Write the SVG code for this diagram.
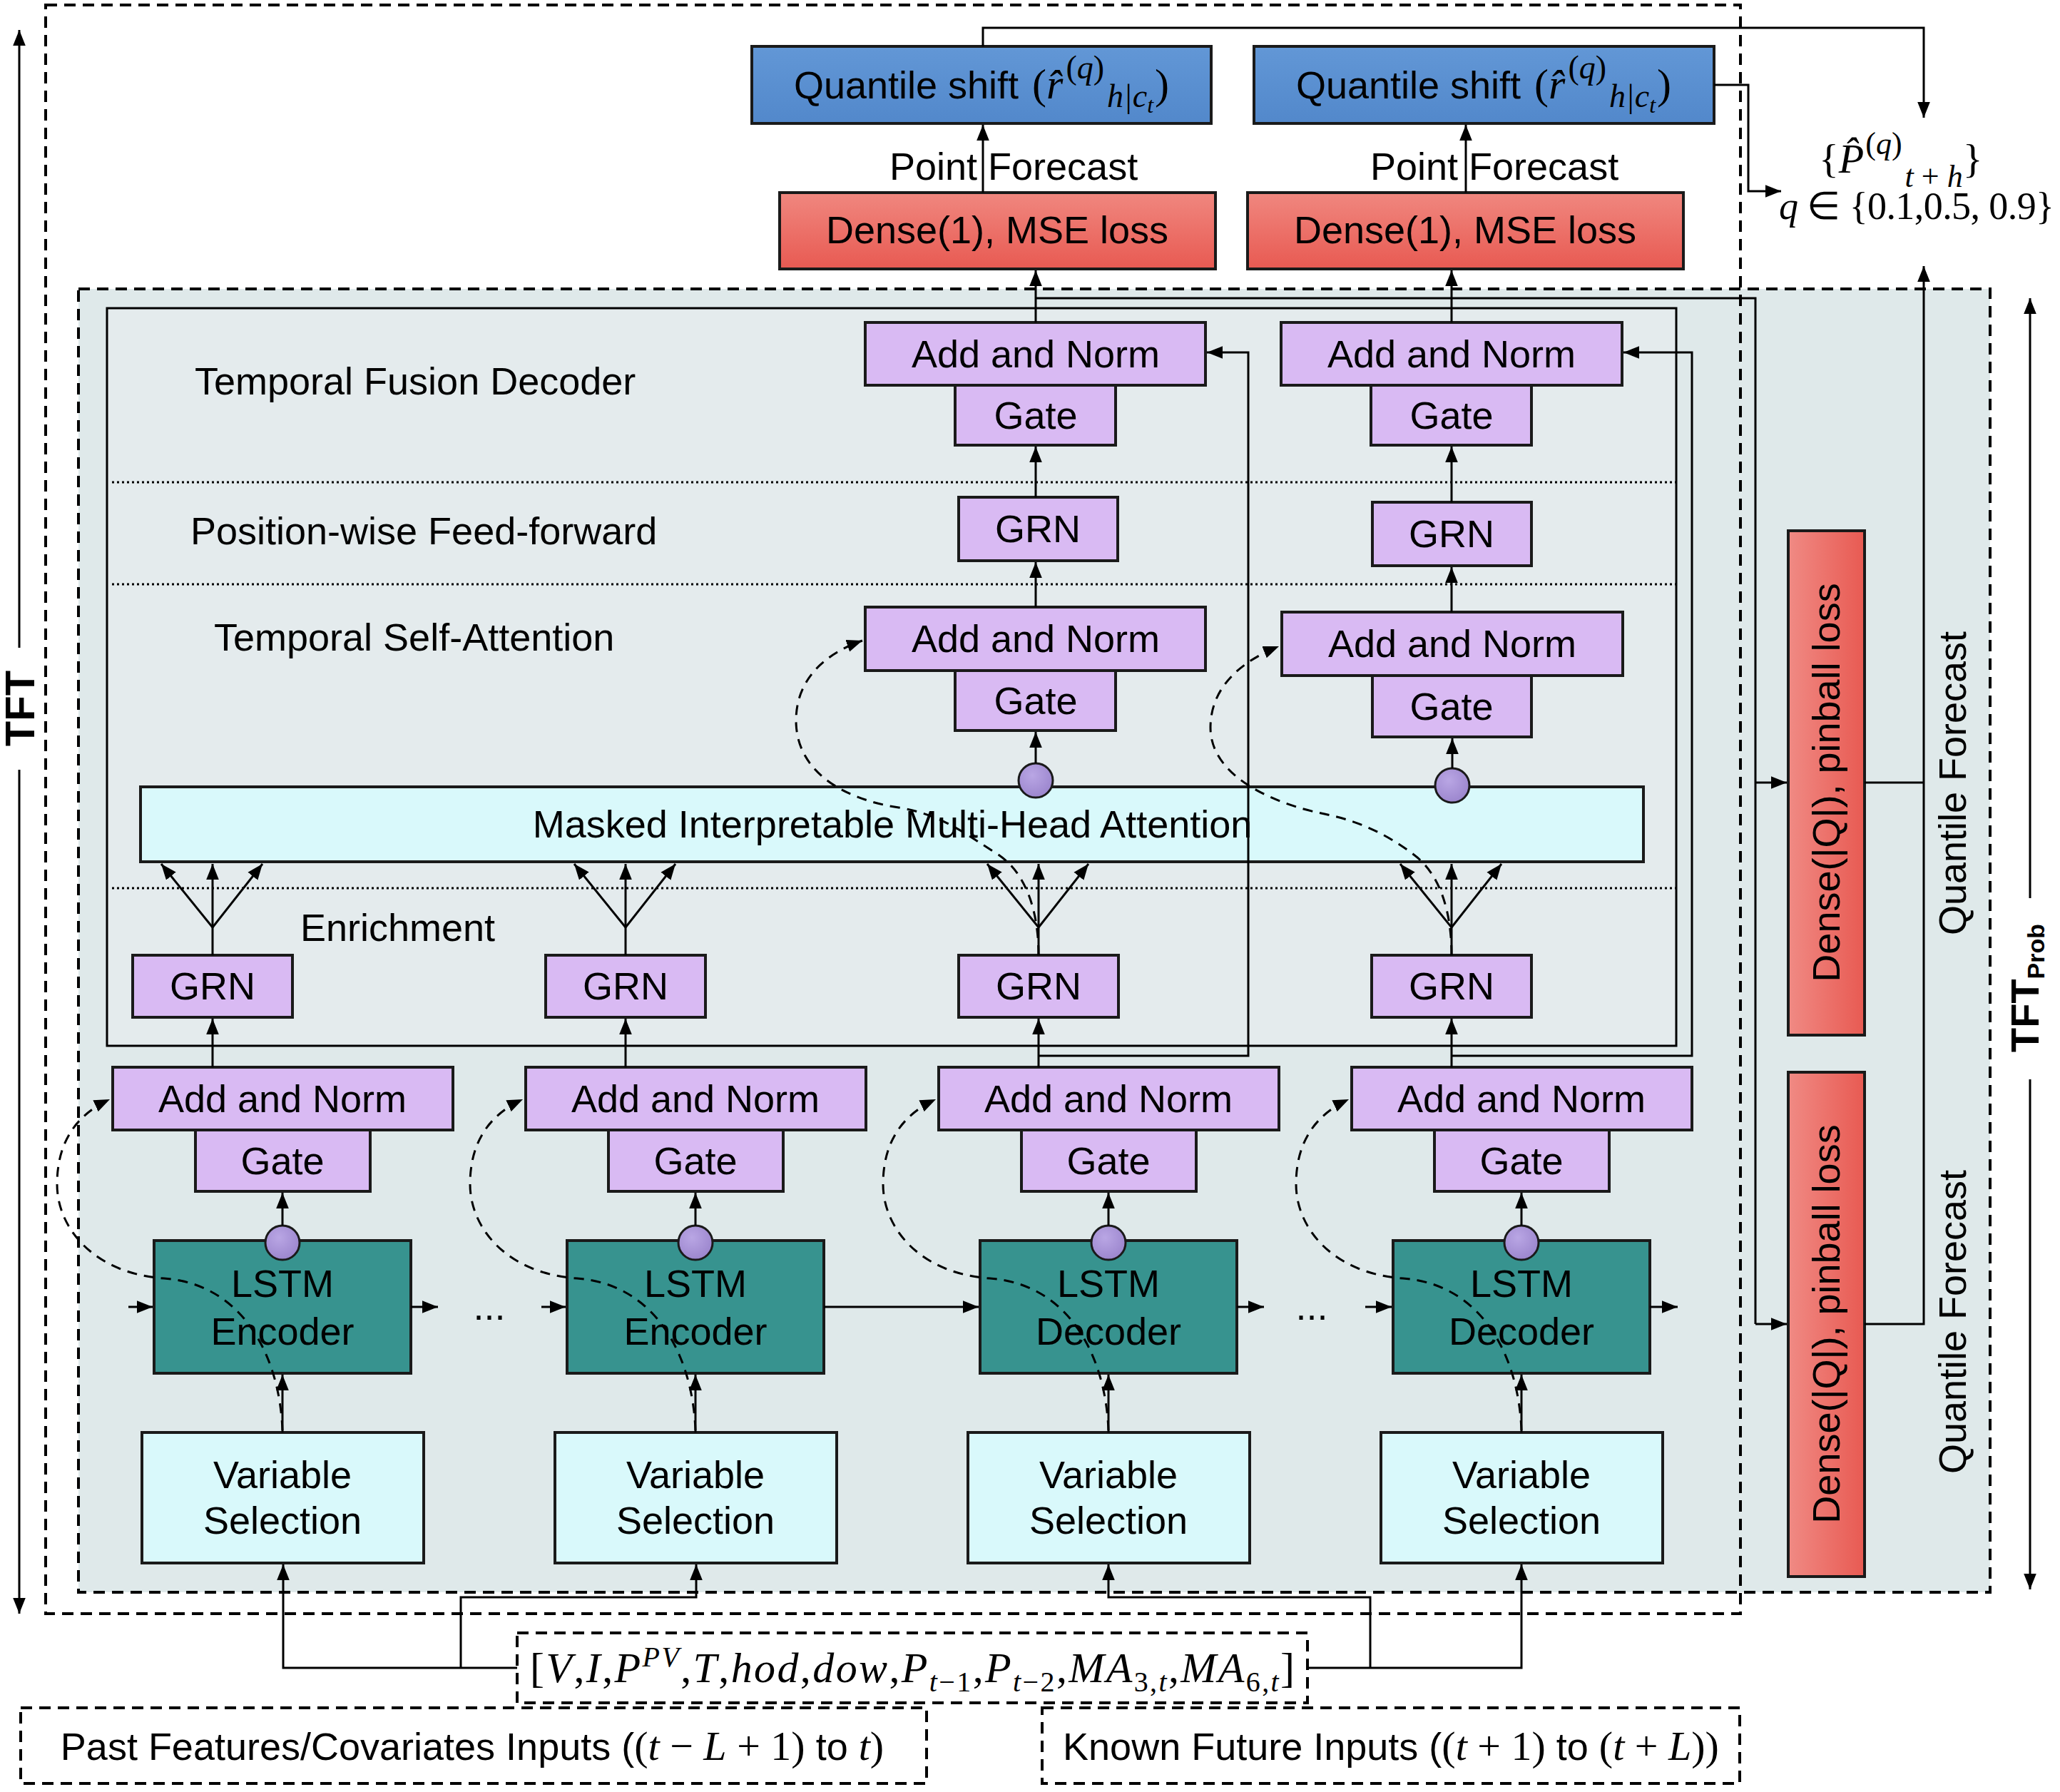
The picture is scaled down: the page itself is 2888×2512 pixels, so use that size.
<svg xmlns="http://www.w3.org/2000/svg" width="2888" height="2512" viewBox="0 0 2888 2512">
<defs>
<style>
.box{stroke:#1a1a1a;stroke-width:4}
.pur{fill:#d9baf3}
.lstm{fill:#37938f}
.cyan{fill:#d9f9fb}
.blue{fill:url(#gBlue)}
.red{fill:url(#gRed)}
.redh{fill:url(#gRedH)}
.circ{fill:url(#gCirc);stroke:#1a1a1a;stroke-width:3}
.t{font-family:"Liberation Sans",Arial,sans-serif;font-size:54px;text-anchor:middle;fill:#000}
.ts{font-family:"Liberation Sans",Arial,sans-serif;font-size:54px;fill:#000}
.m{font-family:"Liberation Serif","Times New Roman",serif;font-style:normal}
.mi{font-family:"Liberation Serif","Times New Roman",serif;font-style:italic}
.ln{stroke:#000;stroke-width:3;fill:none}
.arr{marker-end:url(#ah)}
.dsk{stroke:#000;stroke-width:3;fill:none;stroke-dasharray:14 10;marker-end:url(#ah)}
.dot{stroke:#000;stroke-width:3;stroke-dasharray:3 4;fill:none}
.frame{fill:none;stroke:#000;stroke-width:4;stroke-dasharray:16 10}
.bold{font-family:"Liberation Sans",Arial,sans-serif;font-weight:bold;fill:#000}
</style>
<marker id="ah" viewBox="0 0 20 16" refX="20" refY="8" markerWidth="22" markerHeight="18" markerUnits="userSpaceOnUse" orient="auto">
<path d="M0,0 L20,8 L0,16 z" fill="#000"/>
</marker>
<linearGradient id="gBlue" x1="0" y1="0" x2="0" y2="1"><stop offset="0" stop-color="#6297d6"/><stop offset="1" stop-color="#5288cb"/></linearGradient>
<linearGradient id="gRed" x1="0" y1="0" x2="0" y2="1"><stop offset="0" stop-color="#f0877f"/><stop offset="1" stop-color="#e85a52"/></linearGradient>
<linearGradient id="gRedH" x1="0" y1="0" x2="1" y2="0"><stop offset="0" stop-color="#f08a84"/><stop offset="1" stop-color="#e85a52"/></linearGradient>
<radialGradient id="gCirc" cx="0.4" cy="0.35" r="0.7"><stop offset="0" stop-color="#b9a6e4"/><stop offset="1" stop-color="#9a84cc"/></radialGradient>
</defs>
<rect width="2888" height="2512" fill="#fff"/>

<!-- frames -->
<g id="frames">
<rect x="110" y="405" width="2680" height="1827" fill="#dfe9ea" stroke="none"/>
<rect x="64" y="7" width="2376" height="2255" class="frame"/>
<rect x="110" y="405" width="2680" height="1827" class="frame"/>
<rect x="150" y="432" width="2200" height="1034" fill="#e4ebed" stroke="#000" stroke-width="3"/>
<line x1="157" y1="676" x2="2350" y2="676" class="dot"/>
<line x1="157" y1="819" x2="2350" y2="819" class="dot"/>
<line x1="157" y1="1245" x2="2350" y2="1245" class="dot"/>
<text x="273" y="553" class="ts">Temporal Fusion Decoder</text>
<text x="267" y="763" class="ts">Position-wise Feed-forward</text>
<text x="300" y="912" class="ts">Temporal Self-Attention</text>
<text x="421" y="1319" class="ts">Enrichment</text>
</g>

<!-- side labels -->
<g id="tft-label">
<line x1="27" y1="908" x2="27" y2="42" class="ln arr"/>
<line x1="27" y1="1079" x2="27" y2="2262" class="ln arr"/>
<text transform="translate(27,993) rotate(-90)" class="bold" font-size="58" text-anchor="middle" dominant-baseline="central">TFT</text>
</g>
<g id="tftprob-label">
<line x1="2846" y1="1259" x2="2846" y2="418" class="ln arr"/>
<line x1="2846" y1="1513" x2="2846" y2="2228" class="ln arr"/>
<text transform="translate(2838,1385) rotate(-90)" class="bold" font-size="56" text-anchor="middle" dominant-baseline="central">TFT<tspan font-size="34" dy="16">Prob</tspan></text>
</g>

<!-- top outputs -->
<g id="qs1"><rect x="1054" y="65" width="644" height="108" class="box blue"/>
<text x="1376" y="138" class="t">Quantile shift <tspan class="m" font-size="60" dx="4">(</tspan><tspan class="mi" font-size="60">r̂</tspan><tspan class="m" font-size="46" dy="-28" dx="4">(<tspan class="mi">q</tspan>)</tspan><tspan class="mi" font-size="46" dy="40" dx="4">h|c</tspan><tspan class="mi" font-size="32" dy="8">t</tspan><tspan class="m" font-size="60" dy="-20" dx="2">)</tspan></text></g>
<g id="qs2"><rect x="1758" y="65" width="645" height="108" class="box blue"/>
<text x="2080" y="138" class="t">Quantile shift <tspan class="m" font-size="60" dx="4">(</tspan><tspan class="mi" font-size="60">r̂</tspan><tspan class="m" font-size="46" dy="-28" dx="4">(<tspan class="mi">q</tspan>)</tspan><tspan class="mi" font-size="46" dy="40" dx="4">h|c</tspan><tspan class="mi" font-size="32" dy="8">t</tspan><tspan class="m" font-size="60" dy="-20" dx="2">)</tspan></text></g>
<g id="dense1"><rect x="1093" y="270" width="611" height="107" class="box red"/><text x="1398" y="341" class="t" font-size="52">Dense(1), MSE loss</text></g>
<g id="dense2"><rect x="1749" y="270" width="611" height="107" class="box red"/><text x="2054" y="341" class="t" font-size="52">Dense(1), MSE loss</text></g>
<g id="pf1"><text x="1247" y="252" class="ts">Point Forecast</text></g>
<g id="pf2"><text x="1921" y="252" class="ts">Point Forecast</text></g>
<g id="pq">
<text x="2550" y="242" class="m" font-size="58">{<tspan class="mi">P̂</tspan><tspan font-size="44" dy="-26" dx="2">(<tspan class="mi">q</tspan>)</tspan><tspan class="mi" font-size="44" dy="46" dx="4">t</tspan><tspan font-size="44"> + </tspan><tspan class="mi" font-size="44">h</tspan><tspan dy="-20">}</tspan></text>
<text x="2494" y="307" class="m" font-size="54" textLength="386" lengthAdjust="spacing"><tspan class="mi">q</tspan> ∈ {0.1,0.5, 0.9}</text>
</g>

<!-- quantile heads -->
<g id="dq1"><rect x="2507" y="744" width="107" height="707" class="box redh"/><text transform="translate(2560,1097) rotate(-90)" class="t" font-size="52" dominant-baseline="central">Dense(|Q|), pinball loss</text></g>
<g id="dq2"><rect x="2507" y="1503" width="107" height="707" class="box redh"/><text transform="translate(2560,1856) rotate(-90)" class="t" font-size="52" dominant-baseline="central">Dense(|Q|), pinball loss</text></g>
<g id="qf1"><text transform="translate(2737,1098) rotate(-90)" class="t" dominant-baseline="central">Quantile Forecast</text></g>
<g id="qf2"><text transform="translate(2737,1853) rotate(-90)" class="t" dominant-baseline="central">Quantile Forecast</text></g>

<!-- upper decoder col3 -->
<g id="an-top-3"><rect x="1213" y="452" width="477" height="88" class="box pur"/><text x="1452" y="515" class="t">Add and Norm</text></g>
<g id="gate-top-3"><rect x="1339" y="540" width="225" height="84" class="box pur"/><text x="1452" y="601" class="t">Gate</text></g>
<g id="grn-ff-3"><rect x="1344" y="697" width="223" height="89" class="box pur"/><text x="1455" y="760" class="t">GRN</text></g>
<g id="an-att-3"><rect x="1213" y="851" width="477" height="89" class="box pur"/><text x="1452" y="914" class="t">Add and Norm</text></g>
<g id="gate-att-3"><rect x="1339" y="940" width="225" height="84" class="box pur"/><text x="1452" y="1001" class="t">Gate</text></g>
<!-- upper decoder col4 -->
<g id="an-top-4"><rect x="1796" y="452" width="478" height="88" class="box pur"/><text x="2035" y="515" class="t">Add and Norm</text></g>
<g id="gate-top-4"><rect x="1922" y="540" width="225" height="84" class="box pur"/><text x="2035" y="601" class="t">Gate</text></g>
<g id="grn-ff-4"><rect x="1924" y="704" width="223" height="89" class="box pur"/><text x="2035" y="767" class="t">GRN</text></g>
<g id="an-att-4"><rect x="1797" y="858" width="478" height="89" class="box pur"/><text x="2036" y="921" class="t">Add and Norm</text></g>
<g id="gate-att-4"><rect x="1924" y="947" width="223" height="86" class="box pur"/><text x="2035" y="1009" class="t">Gate</text></g>

<!-- attention -->
<g id="mha"><rect x="197" y="1103" width="2107" height="105" class="box cyan"/><text x="1251" y="1174" class="t">Masked Interpretable Multi-Head Attention</text></g>
<g id="circ-att-3"><circle cx="1452" cy="1094" r="24" class="circ"/></g>
<g id="circ-att-4"><circle cx="2036" cy="1101" r="24" class="circ"/></g>

<!-- enrichment GRNs -->
<g id="grn-e-1"><rect x="186" y="1339" width="224" height="87" class="box pur"/><text x="298" y="1401" class="t">GRN</text></g>
<g id="grn-e-2"><rect x="765" y="1339" width="224" height="87" class="box pur"/><text x="877" y="1401" class="t">GRN</text></g>
<g id="grn-e-3"><rect x="1344" y="1339" width="224" height="87" class="box pur"/><text x="1456" y="1401" class="t">GRN</text></g>
<g id="grn-e-4"><rect x="1923" y="1339" width="224" height="87" class="box pur"/><text x="2035" y="1401" class="t">GRN</text></g>

<!-- lower columns -->
<g id="an-l-1"><rect x="158" y="1496" width="477" height="88" class="box pur"/><text x="396" y="1559" class="t">Add and Norm</text></g>
<g id="gate-l-1"><rect x="274" y="1584" width="245" height="86" class="box pur"/><text x="396" y="1646" class="t">Gate</text></g>
<g id="lstm-1"><rect x="216" y="1739" width="360" height="186" class="box lstm"/><text x="396" y="1818" class="t">LSTM</text><text x="396" y="1885" class="t">Encoder</text></g>
<g id="vs-1"><rect x="199" y="2008" width="395" height="183" class="box cyan"/><text x="396" y="2086" class="t">Variable</text><text x="396" y="2150" class="t">Selection</text></g>

<g id="an-l-2"><rect x="737" y="1496" width="477" height="88" class="box pur"/><text x="975" y="1559" class="t">Add and Norm</text></g>
<g id="gate-l-2"><rect x="853" y="1584" width="245" height="86" class="box pur"/><text x="975" y="1646" class="t">Gate</text></g>
<g id="lstm-2"><rect x="795" y="1739" width="360" height="186" class="box lstm"/><text x="975" y="1818" class="t">LSTM</text><text x="975" y="1885" class="t">Encoder</text></g>
<g id="vs-2"><rect x="778" y="2008" width="395" height="183" class="box cyan"/><text x="975" y="2086" class="t">Variable</text><text x="975" y="2150" class="t">Selection</text></g>

<g id="an-l-3"><rect x="1316" y="1496" width="477" height="88" class="box pur"/><text x="1554" y="1559" class="t">Add and Norm</text></g>
<g id="gate-l-3"><rect x="1432" y="1584" width="245" height="86" class="box pur"/><text x="1554" y="1646" class="t">Gate</text></g>
<g id="lstm-3"><rect x="1374" y="1739" width="360" height="186" class="box lstm"/><text x="1554" y="1818" class="t">LSTM</text><text x="1554" y="1885" class="t">Decoder</text></g>
<g id="vs-3"><rect x="1357" y="2008" width="395" height="183" class="box cyan"/><text x="1554" y="2086" class="t">Variable</text><text x="1554" y="2150" class="t">Selection</text></g>

<g id="an-l-4"><rect x="1895" y="1496" width="477" height="88" class="box pur"/><text x="2133" y="1559" class="t">Add and Norm</text></g>
<g id="gate-l-4"><rect x="2011" y="1584" width="245" height="86" class="box pur"/><text x="2133" y="1646" class="t">Gate</text></g>
<g id="lstm-4"><rect x="1953" y="1739" width="360" height="186" class="box lstm"/><text x="2133" y="1818" class="t">LSTM</text><text x="2133" y="1885" class="t">Decoder</text></g>
<g id="vs-4"><rect x="1936" y="2008" width="395" height="183" class="box cyan"/><text x="2133" y="2086" class="t">Variable</text><text x="2133" y="2150" class="t">Selection</text></g>

<g id="circ-l"><circle cx="396" cy="1742" r="24" class="circ"/><circle cx="975" cy="1742" r="24" class="circ"/><circle cx="1554" cy="1742" r="24" class="circ"/><circle cx="2133" cy="1742" r="24" class="circ"/></g>

<g id="dots"><text x="686" y="1850" class="t">...</text><text x="1839" y="1850" class="t">...</text></g>

<!-- inputs -->
<g id="features"><rect x="725" y="2289" width="1108" height="98" class="frame"/>
<text x="1279" y="2358" class="mi" font-size="60" text-anchor="middle" textLength="1072" lengthAdjust="spacing"><tspan class="m">[</tspan>V<tspan class="m">,</tspan>I<tspan class="m">,</tspan>P<tspan font-size="40" dy="-22">PV</tspan><tspan class="m" dy="22">,</tspan>T<tspan class="m">,</tspan>hod<tspan class="m">,</tspan>dow<tspan class="m">,</tspan>P<tspan font-size="40" dy="13">t</tspan><tspan class="m" font-size="40">−1</tspan><tspan class="m" dy="-13">,</tspan>P<tspan font-size="40" dy="13">t</tspan><tspan class="m" font-size="40">−2</tspan><tspan class="m" dy="-13">,</tspan>MA<tspan class="m" font-size="40" dy="13">3,</tspan><tspan font-size="40">t</tspan><tspan class="m" dy="-13">,</tspan>MA<tspan class="m" font-size="40" dy="13">6,</tspan><tspan font-size="40">t</tspan><tspan class="m" dy="-13">]</tspan></text></g>
<g id="past"><rect x="29" y="2394" width="1270" height="106" class="frame"/>
<text x="662" y="2467" class="t" font-size="56">Past Features/Covariates Inputs (<tspan class="m" font-size="58">(</tspan><tspan class="mi" font-size="58">t</tspan><tspan class="m" font-size="58"> − </tspan><tspan class="mi" font-size="58">L</tspan><tspan class="m" font-size="58"> + 1)</tspan> to <tspan class="mi" font-size="58">t</tspan><tspan class="m" font-size="58">)</tspan></text></g>
<g id="known"><rect x="1461" y="2394" width="978" height="106" class="frame"/>
<text x="1950" y="2467" class="t" font-size="56">Known Future Inputs (<tspan class="m" font-size="58">(</tspan><tspan class="mi" font-size="58">t</tspan><tspan class="m" font-size="58"> + 1)</tspan> to <tspan class="m" font-size="58">(</tspan><tspan class="mi" font-size="58">t</tspan><tspan class="m" font-size="58"> + </tspan><tspan class="mi" font-size="58">L</tspan><tspan class="m" font-size="58">))</tspan></text></g>

<!-- connectors -->
<g id="connectors">
<!-- top -->
<polyline points="1378,65 1378,39 2697,39 2697,165" class="ln arr"/>
<polyline points="2403,119 2451,119 2451,268 2497,268" class="ln arr"/>
<line x1="1378" y1="270" x2="1378" y2="175" class="ln arr"/>
<line x1="2055" y1="270" x2="2055" y2="175" class="ln arr"/>
<line x1="1452" y1="452" x2="1452" y2="379" class="ln arr"/>
<line x1="2035" y1="452" x2="2035" y2="379" class="ln arr"/>
<polyline points="1452,418 2461,418 2461,1856" class="ln"/>
<line x1="2461" y1="1097" x2="2505" y2="1097" class="ln arr"/>
<line x1="2461" y1="1856" x2="2505" y2="1856" class="ln arr"/>
<line x1="2614" y1="1097" x2="2697" y2="1097" class="ln"/>
<polyline points="2614,1856 2697,1856 2697,373" class="ln arr"/>
<!-- upper decoder -->
<line x1="1452" y1="697" x2="1452" y2="626" class="ln arr"/>
<line x1="1452" y1="851" x2="1452" y2="788" class="ln arr"/>
<line x1="1452" y1="1070" x2="1452" y2="1026" class="ln arr"/>
<line x1="2035" y1="704" x2="2035" y2="626" class="ln arr"/>
<line x1="2035" y1="858" x2="2035" y2="795" class="ln arr"/>
<line x1="2036" y1="1077" x2="2036" y2="1035" class="ln arr"/>
<polyline points="1456,1480 1750,1480 1750,494 1692,494" class="ln arr"/>
<polyline points="2035,1480 2372,1480 2372,494 2276,494" class="ln arr"/>
<!-- fans -->
<path d="M298,1339 V1300 M877,1339 V1300 M1456,1339 V1300 M2035,1339 V1300" class="ln"/>
<g class="ln arr">
<line x1="298" y1="1300" x2="226" y2="1211"/><line x1="298" y1="1300" x2="298" y2="1211"/><line x1="298" y1="1300" x2="368" y2="1211"/>
<line x1="877" y1="1300" x2="805" y2="1211"/><line x1="877" y1="1300" x2="877" y2="1211"/><line x1="877" y1="1300" x2="947" y2="1211"/>
<line x1="1456" y1="1300" x2="1384" y2="1211"/><line x1="1456" y1="1300" x2="1456" y2="1211"/><line x1="1456" y1="1300" x2="1526" y2="1211"/>
<line x1="2035" y1="1300" x2="1963" y2="1211"/><line x1="2035" y1="1300" x2="2035" y2="1211"/><line x1="2035" y1="1300" x2="2105" y2="1211"/>
</g>
<!-- lower columns -->
<g class="ln arr">
<line x1="298" y1="1496" x2="298" y2="1428"/><line x1="877" y1="1496" x2="877" y2="1428"/><line x1="1456" y1="1496" x2="1456" y2="1428"/><line x1="2035" y1="1496" x2="2035" y2="1428"/>
<line x1="396" y1="1718" x2="396" y2="1672"/><line x1="975" y1="1718" x2="975" y2="1672"/><line x1="1554" y1="1718" x2="1554" y2="1672"/><line x1="2133" y1="1718" x2="2133" y2="1672"/>
<line x1="396" y1="2008" x2="396" y2="1927"/><line x1="975" y1="2008" x2="975" y2="1927"/><line x1="1554" y1="2008" x2="1554" y2="1927"/><line x1="2133" y1="2008" x2="2133" y2="1927"/>
<line x1="180" y1="1832" x2="214" y2="1832"/><line x1="576" y1="1832" x2="614" y2="1832"/>
<line x1="759" y1="1832" x2="793" y2="1832"/><line x1="1155" y1="1832" x2="1372" y2="1832"/>
<line x1="1734" y1="1832" x2="1772" y2="1832"/><line x1="1914" y1="1832" x2="1951" y2="1832"/>
<line x1="2313" y1="1832" x2="2352" y2="1832"/>
</g>
<!-- skip connections -->
<path d="M396,2005 C392,1900 340,1800 230,1792 C130,1785 80,1720 80,1660 C80,1600 108,1562 154,1541" class="dsk"/>
<path d="M975,2005 C971,1900 919,1800 809,1792 C709,1785 659,1720 659,1660 C659,1600 687,1562 733,1541" class="dsk"/>
<path d="M1554,2005 C1550,1900 1498,1800 1388,1792 C1288,1785 1238,1720 1238,1660 C1238,1600 1266,1562 1312,1541" class="dsk"/>
<path d="M2133,2005 C2129,1900 2077,1800 1967,1792 C1867,1785 1817,1720 1817,1660 C1817,1600 1845,1562 1891,1541" class="dsk"/>
<path d="M1456,1339 C1456,1280 1440,1222 1395,1195 C1352,1168 1320,1142 1260,1132 C1180,1120 1116,1080 1116,1010 C1116,950 1160,915 1209,898" class="dsk"/>
<path d="M2035,1339 C2035,1280 2020,1226 1982,1198 C1940,1166 1900,1150 1857,1141 C1790,1128 1697,1090 1697,1020 C1697,960 1745,925 1793,906" class="dsk"/>
<!-- inputs -->
<polyline points="725,2338 397,2338 397,2193" class="ln arr"/>
<polyline points="646,2338 646,2239 976,2239 976,2193" class="ln arr"/>
<polyline points="1833,2338 2133,2338 2133,2193" class="ln arr"/>
<polyline points="1921,2338 1921,2239 1554,2239 1554,2193" class="ln arr"/>
</g>
</svg>
